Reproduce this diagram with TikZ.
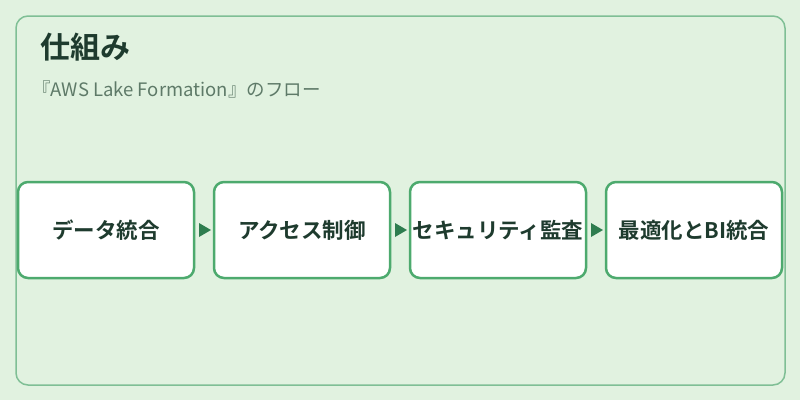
\documentclass[tikz,border=0pt]{standalone}
\usepackage{fontspec}
\setmainfont{Noto Sans CJK JP}
\newfontfamily\jpb{Noto Sans CJK JP Bold}
\usetikzlibrary{positioning}
\definecolor{bgc}{HTML}{E1F2E0}
\definecolor{panelc}{HTML}{7FBF95}
\definecolor{boxc}{HTML}{4DAA6E}
\definecolor{arrc}{HTML}{2E7D4F}
\definecolor{titc}{HTML}{1E3B2E}
\definecolor{subc}{HTML}{5E7A68}
\tikzset{
  stepbox/.style={draw=boxc, line width=2.5pt, fill=white, rounded corners=10pt,
    minimum width=176pt, minimum height=96pt, inner sep=0pt,
    font=\jpb\fontsize{21.5}{24}\selectfont, text=titc},
  flowarr/.style={fill=arrc, draw=none}
}
\begin{document}
\begin{tikzpicture}[x=1pt,y=-1pt]
\useasboundingbox (0,0) rectangle (800,400);
\fill[bgc] (0,0) rectangle (800,400);
\draw[panelc, line width=1.5pt, rounded corners=12pt] (16,16) rectangle (785,385);
\node[anchor=west, text=titc, font=\jpb\fontsize{30}{34}\selectfont, inner sep=0pt] (title) at (40,47) {仕組み};
\node[anchor=west, text=subc, font=\fontsize{18.5}{20}\selectfont, inner sep=0pt] (sub) at (32,89) {『AWS Lake Formation』のフロー};
\node[stepbox] (b1) at (106,230) {データ統合};
\node[stepbox] (b2) at (302,230) {アクセス制御};
\node[stepbox] (b3) at (498,230) {セキュリティ監査};
\node[stepbox] (b4) at (694,230) {最適化とBI統合};
\foreach \a/\b in {b1/b2,b2/b3,b3/b4}{
  \path (\a.east) -- (\b.west) coordinate[pos=0.5] (m);
  \fill[flowarr] ([xshift=-5pt,yshift=-7pt]m) -- ([xshift=7pt]m) -- ([xshift=-5pt,yshift=7pt]m) -- cycle;
}
\end{tikzpicture}
\end{document}
